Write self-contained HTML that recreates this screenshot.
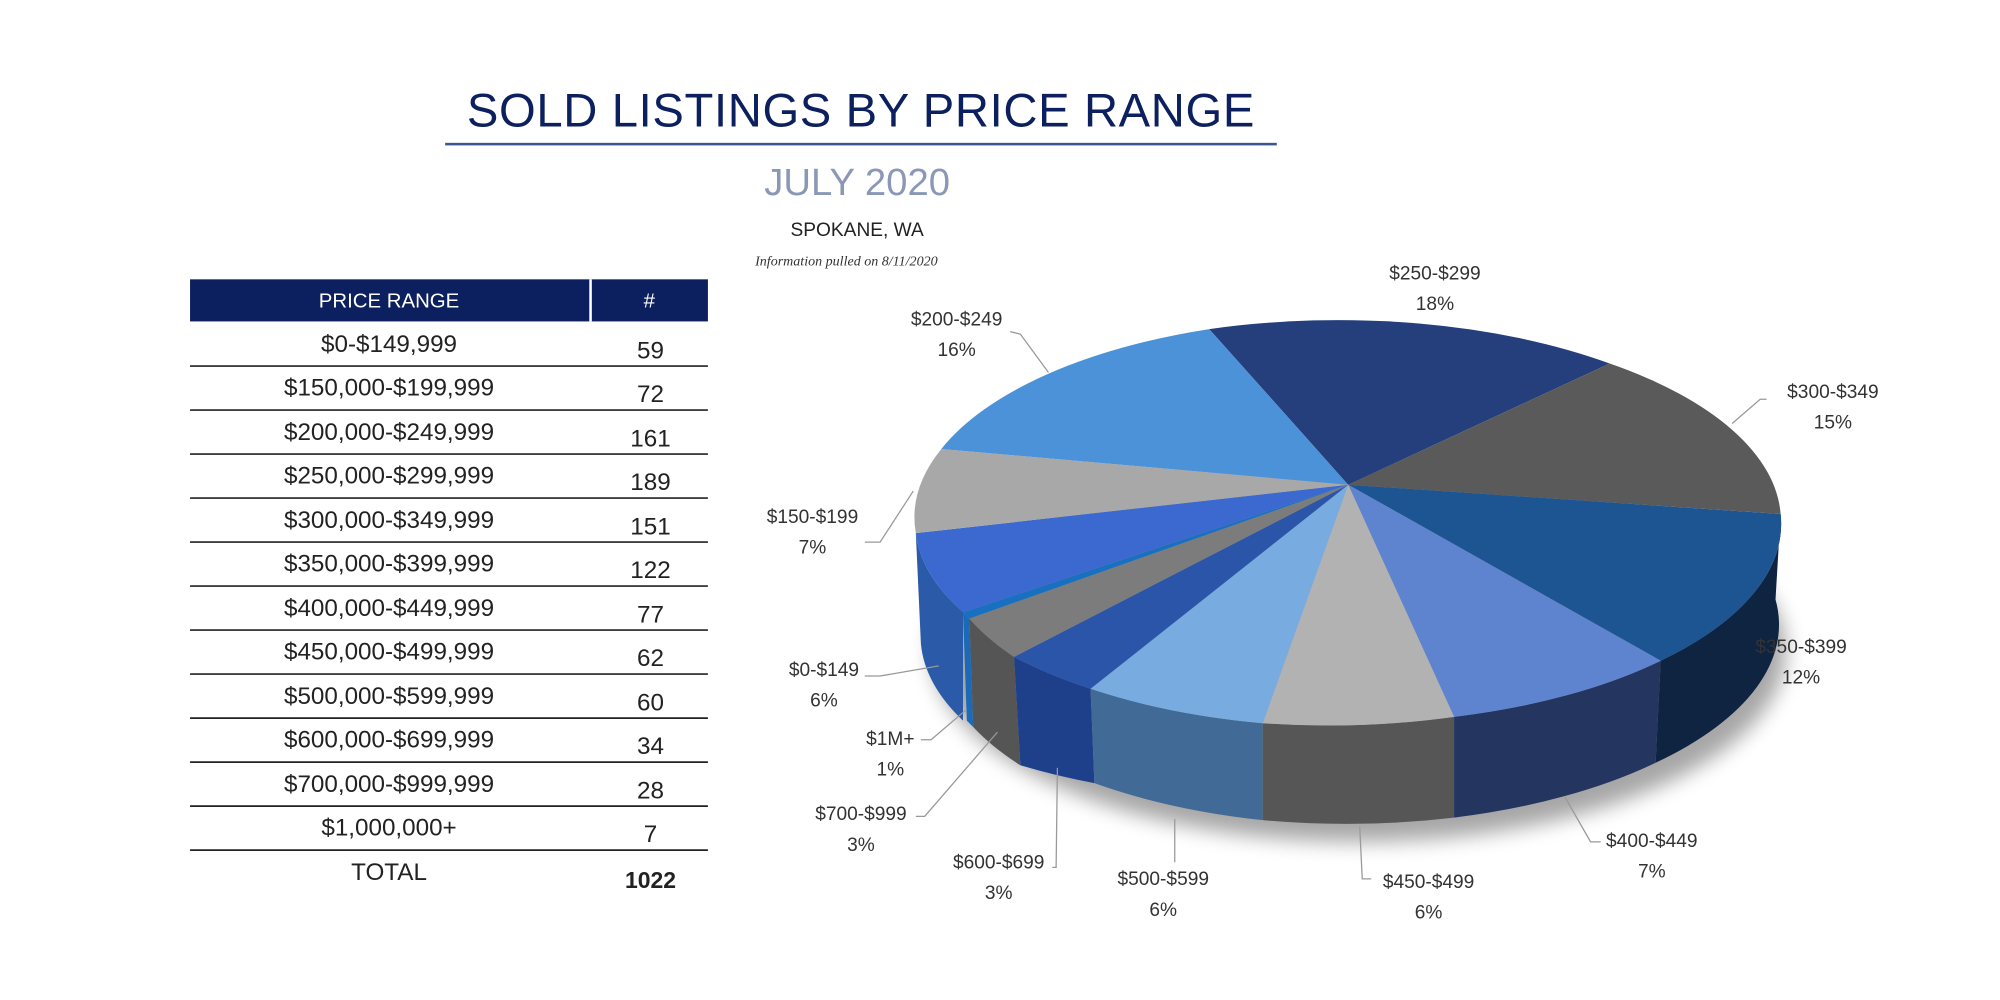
<!DOCTYPE html>
<html><head><meta charset="utf-8"><style>
html,body{margin:0;padding:0;background:#fff;width:2000px;height:1000px;overflow:hidden}
#w{position:absolute;left:0;top:0;width:1568px;height:784px;transform:scale(1.27551);transform-origin:0 0;font-family:"Liberation Sans",sans-serif}
.t{position:absolute;white-space:nowrap}
</style></head><body><div id="w">
<div class="t" style="left:349px;width:652px;top:66px;text-align:center;font-size:37px;color:#0c1f5e;letter-spacing:0.5px">SOLD LISTINGS BY PRICE RANGE</div>
<div style="position:absolute;left:349px;top:112px;width:652px;height:1.5px;background:#3a5590"></div>
<div class="t" style="left:522px;width:300px;top:127px;text-align:center;font-size:30px;color:#8a98b6">JULY 2020</div>
<div class="t" style="left:572px;width:200px;top:172px;text-align:center;font-size:15px;color:#222">SPOKANE, WA</div>
<div class="t" style="left:592px;top:199px;font-size:11px;font-style:italic;font-family:'Liberation Serif',serif;color:#333">Information pulled on 8/11/2020</div>
<svg style="position:absolute;left:0;top:0" width="1568" height="784">
<rect x="149" y="219" width="406" height="33" fill="#0c1f5e"/>
<rect x="462" y="219" width="2" height="33" fill="#fff"/>
<text x="305" y="241" font-size="16" fill="#fff" text-anchor="middle">PRICE RANGE</text>
<text x="509" y="241" font-size="16" fill="#fff" text-anchor="middle">#</text>
<g stroke="#222" stroke-width="1.3">
<line x1="149" x2="555" y1="287" y2="287"/><line x1="149" x2="555" y1="321.5" y2="321.5"/><line x1="149" x2="555" y1="356" y2="356"/><line x1="149" x2="555" y1="390.5" y2="390.5"/><line x1="149" x2="555" y1="425" y2="425"/><line x1="149" x2="555" y1="459.5" y2="459.5"/><line x1="149" x2="555" y1="494" y2="494"/><line x1="149" x2="555" y1="528.5" y2="528.5"/><line x1="149" x2="555" y1="563" y2="563"/><line x1="149" x2="555" y1="597.5" y2="597.5"/><line x1="149" x2="555" y1="632" y2="632"/><line x1="149" x2="555" y1="666.5" y2="666.5"/>
</g>
<g font-size="19" fill="#222" text-anchor="middle">
<text x="305" y="276">$0-$149,999</text><text x="510" y="281">59</text>
<text x="305" y="310">$150,000-$199,999</text><text x="510" y="315">72</text>
<text x="305" y="345">$200,000-$249,999</text><text x="510" y="350">161</text>
<text x="305" y="379">$250,000-$299,999</text><text x="510" y="384">189</text>
<text x="305" y="414">$300,000-$349,999</text><text x="510" y="419">151</text>
<text x="305" y="448">$350,000-$399,999</text><text x="510" y="453">122</text>
<text x="305" y="483">$400,000-$449,999</text><text x="510" y="488">77</text>
<text x="305" y="517">$450,000-$499,999</text><text x="510" y="522">62</text>
<text x="305" y="552">$500,000-$599,999</text><text x="510" y="557">60</text>
<text x="305" y="586">$600,000-$699,999</text><text x="510" y="591">34</text>
<text x="305" y="621">$700,000-$999,999</text><text x="510" y="626">28</text>
<text x="305" y="655">$1,000,000+</text><text x="510" y="660">7</text>
<text x="305" y="690">TOTAL</text><text x="510" y="696" font-weight="bold" font-size="18">1022</text>
</g>
<defs><filter id="sh" x="-20%" y="-20%" width="140%" height="160%"><feGaussianBlur stdDeviation="8"/></filter></defs>
<ellipse cx="1065" cy="510" rx="335" ry="150" fill="#000" opacity="0.35" filter="url(#sh)"/>
<!-- sides -->
<g>
<path d="M718,418 A340,155 0 0 0 755,480 L755,565 A340,155 0 0 1 722,505 Z" fill="#2a5aa8"/>
<path d="M755,480 A340,155 0 0 0 760,485 L763,570 L758,565 Z" fill="#1a6ab8"/>
<path d="M760,485 A340,155 0 0 0 795,515 L800,600 A340,155 0 0 1 763,570 Z" fill="#555"/>
<path d="M795,515 A340,155 0 0 0 855,540 L858,614 A340,155 0 0 1 800,600 Z" fill="#1e3f8a"/>
<path d="M855,540 A340,155 0 0 0 990,567 L990,643 A340,155 0 0 1 858,614 Z" fill="#426a96"/>
<path d="M990,567 A340,155 0 0 0 1140,562 L1140,641 A340,155 0 0 1 990,643 Z" fill="#565656"/>
<path d="M1140,562 A340,155 0 0 0 1302,518 L1298,598 A340,155 0 0 1 1140,641 Z" fill="#24365f"/>
<path d="M1302,518 A340,155 0 0 0 1396,403 L1392,470 A340,155 0 0 1 1298,598 Z" fill="#0f2440"/>
</g>
<!-- tops -->
<g>
<path d="M1057,380 L948,258 A340,155 0 0 1 1262,285 Z" fill="#243f7c"/>
<path d="M1057,380 L1262,285 A340,155 0 0 1 1396,403 Z" fill="#5a5a5a"/>
<path d="M1057,380 L1396,403 A340,155 0 0 1 1302,518 Z" fill="#1d5592"/>
<path d="M1057,380 L1302,518 A340,155 0 0 1 1140,562 Z" fill="#5e84cf"/>
<path d="M1057,380 L1140,562 A340,155 0 0 1 990,567 Z" fill="#b2b2b2"/>
<path d="M1057,380 L990,567 A340,155 0 0 1 855,540 Z" fill="#78ace0"/>
<path d="M1057,380 L855,540 A340,155 0 0 1 795,515 Z" fill="#2a55a8"/>
<path d="M1057,380 L795,515 A340,155 0 0 1 760,485 Z" fill="#7c7c7c"/>
<path d="M1057,380 L760,485 A340,155 0 0 1 755,480 Z" fill="#1a70c0"/>
<path d="M1057,380 L755,480 A340,155 0 0 1 718,418 Z" fill="#3b69cf"/>
<path d="M1057,380 L718,418 A340,155 0 0 1 738,352 Z" fill="#a8a8a8"/>
<path d="M1057,380 L738,352 A340,155 0 0 1 948,258 Z" fill="#4c92d8"/>
</g>
<g stroke="#999" stroke-width="1" fill="none">
<polyline points="792,260 800,262 822,292"/>
<polyline points="1385,313 1380,313 1358,332"/>
<polyline points="678,425 690,425 716,385"/>
<polyline points="678,530 690,530 736,522"/>
<polyline points="722,580 730,580 758,556"/>
<polyline points="718,640 725,640 782,574"/>
<polyline points="825,680 828,680 829,602"/>
<polyline points="921,676 921,642"/>
<polyline points="1075,689 1068,689 1066,648"/>
<polyline points="1255,660 1247,660 1227,625"/>
</g>
<g font-size="15" fill="#333" text-anchor="middle">
<text x="1125" y="219">$250-$299</text><text x="1125" y="243">18%</text>
<text x="750" y="255">$200-$249</text><text x="750" y="279">16%</text>
<text x="1437" y="312">$300-$349</text><text x="1437" y="336">15%</text>
<text x="637" y="410">$150-$199</text><text x="637" y="434">7%</text>
<text x="1412" y="512">$350-$399</text><text x="1412" y="536">12%</text>
<text x="646" y="530">$0-$149</text><text x="646" y="554">6%</text>
<text x="698" y="584">$1M+</text><text x="698" y="608">1%</text>
<text x="675" y="643">$700-$999</text><text x="675" y="667">3%</text>
<text x="783" y="681">$600-$699</text><text x="783" y="705">3%</text>
<text x="912" y="694">$500-$599</text><text x="912" y="718">6%</text>
<text x="1120" y="696">$450-$499</text><text x="1120" y="720">6%</text>
<text x="1295" y="664">$400-$449</text><text x="1295" y="688">7%</text>
</g>
</svg>
</div></body></html>
